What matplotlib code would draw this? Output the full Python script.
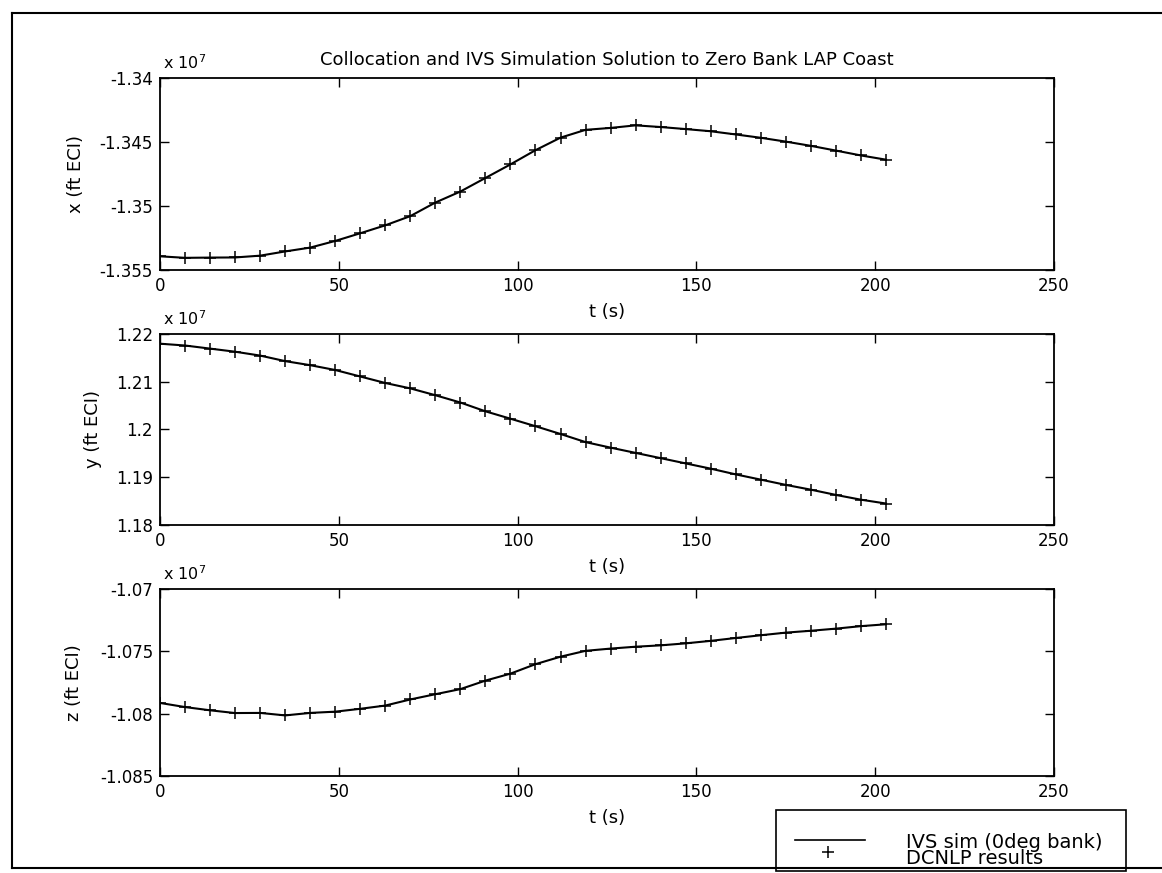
import matplotlib
matplotlib.use("Agg")
import matplotlib.pyplot as plt
from matplotlib.lines import Line2D
from matplotlib.patches import Rectangle
from matplotlib.ticker import FuncFormatter

plt.rcParams['font.family'] = ['DejaVu Sans']
plt.rcParams['font.size'] = 12

# ---------------- data (positions in units of 1e7 ft ECI) ----------------
t_s = [0, 7, 14, 21, 28, 35, 42, 49, 56, 63, 70, 77, 84, 91, 98, 105, 112, 119,
       126, 133, 140, 147, 154, 161, 168, 175, 182, 189, 196, 203]

x_ft = [-1.35393, -1.35405, -1.35403, -1.35402, -1.35388, -1.35355, -1.35325,
        -1.35273, -1.35213, -1.35151, -1.35079, -1.34973, -1.34887, -1.34781,
        -1.34675, -1.34564, -1.34466, -1.34405, -1.34390, -1.34370, -1.34383,
        -1.34399, -1.34416, -1.34441, -1.34467, -1.34497, -1.34530, -1.34567,
        -1.34605, -1.34638]

y_ft = [1.21797, 1.21759, 1.21694, 1.21629, 1.21548, 1.21432, 1.21347, 1.21246,
        1.21110, 1.20974, 1.20861, 1.20718, 1.20565, 1.20381, 1.20226, 1.20069,
        1.19906, 1.19736, 1.19620, 1.19510, 1.19400, 1.19290, 1.19180, 1.19060,
        1.18950, 1.18840, 1.18740, 1.18630, 1.18530, 1.18450]

z_ft = [-1.07914, -1.07947, -1.07973, -1.07995, -1.07994, -1.08014, -1.07994,
        -1.07984, -1.07961, -1.07935, -1.07886, -1.07844, -1.07803, -1.07735,
        -1.07679, -1.07603, -1.07543, -1.07496, -1.07478, -1.07463, -1.07452,
        -1.07436, -1.07416, -1.07393, -1.07371, -1.07350, -1.07335, -1.07318,
        -1.07298, -1.07283]

x_ticks = [0, 50, 100, 150, 200, 250]
x_yticks = [-1.355, -1.35, -1.345, -1.34]
y_yticks = [1.18, 1.19, 1.2, 1.21, 1.22]
z_yticks = [-1.085, -1.08, -1.075, -1.07]

title = "Collocation and IVS Simulation Solution to Zero Bank LAP Coast"
ylabels = ["x (ft ECI)", "y (ft ECI)", "z (ft ECI)"]
legend_labels = ["IVS sim (0deg bank)", "DCNLP results"]

# ---------------- figure ----------------
W, H = 1162, 873
fig = plt.figure(figsize=(W / 100, H / 100), dpi=100)

L, R = 160, 1054
panels = [
    (78, 270, x_ft, x_yticks, ylabels[0], 85),
    (334, 525, y_ft, y_yticks, ylabels[1], 102),
    (589, 776, z_ft, z_yticks, ylabels[2], 83),
]

fmt = FuncFormatter(lambda v, p: f"{v:g}")
axes = []
for top, bot, vals, yt, ylab, ylab_x in panels:
    hpx = bot - top
    ax = fig.add_axes([L / W, 1 - bot / H, (R - L) / W, hpx / H])
    ax.plot(t_s, vals, color='k', lw=1.5)
    ax.plot(t_s, vals, ls='none', marker='+', ms=8.5, mew=1.1, color='k')
    ax.set_xlim(0, 250)
    ax.set_ylim(yt[0], yt[-1])
    ax.set_xticks(x_ticks)
    ax.set_yticks(yt)
    ax.yaxis.set_major_formatter(fmt)
    ax.tick_params(direction='in', top=True, right=True, length=6.5, width=1,
                   labelsize=12, pad=5)
    for s in ax.spines.values():
        s.set_linewidth(1.3)
    ax.set_xlabel("t (s)", fontsize=13)
    ax.xaxis.set_label_coords(0.5, -33 / hpx)
    ax.set_ylabel(ylab, fontsize=13)
    ax.yaxis.set_label_coords((ylab_x - L) / (R - L), 0.5)
    ax.text(0.003, 1 + 6 / hpx, r"x 10$^{7}$", transform=ax.transAxes,
            ha='left', va='bottom', fontsize=11.5)
    axes.append(ax)

axes[0].set_title(title, fontsize=13, pad=9.5)

# outer frame
fl = dict(color='k', lw=1.5, transform=fig.transFigure)
fig.add_artist(Line2D([12 / W, 12 / W], [1 - 13 / H, 1 - 868 / H], **fl))
fig.add_artist(Line2D([12 / W, 1.01], [1 - 13 / H, 1 - 13 / H], **fl))
fig.add_artist(Line2D([12 / W, 1.01], [1 - 868 / H, 1 - 868 / H], **fl))

# legend
fig.add_artist(Rectangle((776 / W, 1 - 871 / H), (1126 - 776) / W, (871 - 810) / H,
                         transform=fig.transFigure, facecolor='white',
                         edgecolor='k', lw=1.2))
fig.add_artist(Line2D([795 / W, 865 / W], [1 - 840 / H, 1 - 840 / H], color='k',
                      lw=1.2, transform=fig.transFigure))
fig.add_artist(Line2D([828 / W], [1 - 852 / H], ls='none', marker='+', ms=9,
                      mew=1.1, color='k', transform=fig.transFigure))
fig.text(906 / W, 1 - 842 / H, legend_labels[0], va='center', ha='left', fontsize=14)
fig.text(906 / W, 1 - 859 / H, legend_labels[1], va='center', ha='left', fontsize=14)

fig.savefig("out.png", dpi=100)
